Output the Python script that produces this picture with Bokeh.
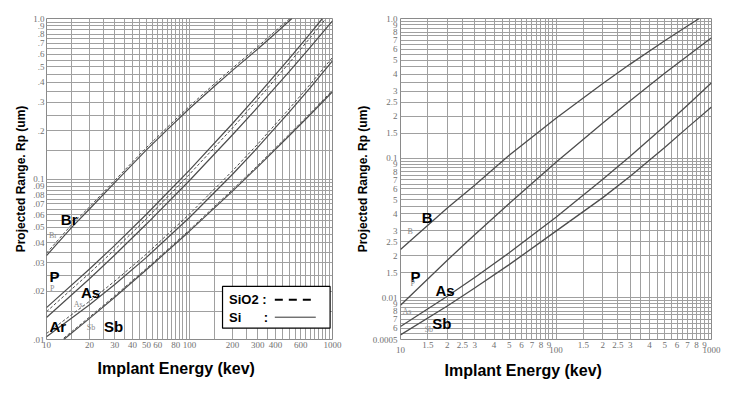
import numpy as np
from bokeh.plotting import figure
from bokeh.layouts import row
from bokeh.models import (Range1d, FixedTicker, Label, Arrow, BoxAnnotation, Title, LogAxis)
from bokeh.embed import file_html
from bokeh.resources import INLINE

# ---------------- Left panel data: implant energy (keV) vs projected range (um)
br_si_e = [10, 15, 20, 30, 50, 70, 100, 150, 200, 300, 400, 520]
br_si_rp = [0.0333, 0.050, 0.065, 0.095, 0.152, 0.203, 0.275, 0.38, 0.475, 0.645, 0.81, 1.0]
br_ox_e = [10, 15, 20, 30, 50, 70, 100, 150, 200, 300, 400, 505]
br_ox_rp = [0.0345, 0.052, 0.067, 0.098, 0.157, 0.210, 0.284, 0.393, 0.491, 0.667, 0.838, 1.0]
p_si_e = [10, 20, 30, 50, 100, 200, 300, 500, 700, 850]
p_si_rp = [0.0158, 0.0275, 0.0386, 0.0603, 0.1137, 0.2217, 0.3327, 0.565, 0.809, 1.0]
p_ox_e = [10, 20, 30, 50, 100, 200, 300, 500, 700, 900]
p_ox_rp = [0.0149, 0.0259, 0.0363, 0.0567, 0.107, 0.208, 0.313, 0.531, 0.761, 1.0]
ar_si_e = [10, 20, 30, 50, 100, 200, 300, 500, 700, 1000]
ar_si_rp = [0.0137, 0.0239, 0.0336, 0.0524, 0.0979, 0.1886, 0.2803, 0.4687, 0.6632, 0.965]
as_si_e = [10, 20, 30, 50, 100, 200, 300, 500, 700, 1000]
as_si_rp = [0.0104, 0.01645, 0.0220, 0.0325, 0.0576, 0.1071, 0.1573, 0.2619, 0.3714, 0.545]
as_ox_rp = [0.0109, 0.0173, 0.0231, 0.0341, 0.0605, 0.1125, 0.165, 0.275, 0.39, 0.572]
sb_si_e = [13.2, 20, 30, 50, 100, 200, 300, 500, 700, 1000]
sb_si_rp = [0.01, 0.01354, 0.01835, 0.02719, 0.0473, 0.0841, 0.119, 0.1866, 0.2522, 0.3497]
sb_ox_rp = [0.0102, 0.0138, 0.0187, 0.0277, 0.0482, 0.0858, 0.1214, 0.1903, 0.2572, 0.3567]

# ---------------- Right panel data
b_r_e = [10, 20, 30, 50, 100, 200, 300, 500, 700, 834]
b_r_rp = [0.0221, 0.0438, 0.0638, 0.1046, 0.1926, 0.3423, 0.4712, 0.6931, 0.8841, 1.0]
p_r_e = [10, 20, 30, 50, 100, 200, 300, 500, 700, 1000]
p_r_rp = [0.0088, 0.0185, 0.0282, 0.0472, 0.0931, 0.1785, 0.2577, 0.4044, 0.5394, 0.727]
as_r_e = [10, 20, 30, 50, 100, 200, 300, 500, 700, 1000]
as_r_rp = [0.0062, 0.0102, 0.0139, 0.0209, 0.0376, 0.0703, 0.103, 0.1698, 0.2386, 0.346]
sb_r_e = [10, 20, 30, 50, 100, 200, 300, 500, 700, 1000]
sb_r_rp = [0.0054, 0.0087, 0.0117, 0.0172, 0.0299, 0.052, 0.074, 0.119, 0.1651, 0.232]

# ---------------- Tick labels
left_x_ticks = [10, 20, 30, 40, 50, 60, 80, 100, 200, 300, 400, 600, 1000]
left_x_labels = ["10", "20", "30", "40", "50", "60", "80", "100", "200", "300", "400", "600", "1000"]
left_y_ticks = [0.01, 0.02, 0.03, 0.04, 0.05, 0.06, 0.07, 0.08, 0.09, 0.1,
                0.2, 0.3, 0.4, 0.5, 0.6, 0.7, 0.8, 0.9, 1.0]
left_y_labels = [".01", ".02", ".03", ".04", ".05", ".06", ".07", ".08", ".09", "0.1",
                 ".2", ".3", ".4", ".5", ".6", ".7", ".8", ".9", "1.0"]
right_x_ticks = [15, 20, 25, 30, 40, 50, 60, 70, 80, 90,
                 150, 200, 250, 300, 400, 500, 600, 700, 800, 900]
right_x_labels = ["1.5", "2", "2.5", "3", "4", "5", "6", "7", "8", "9",
                  "1.5", "2", "2.5", "3", "4", "5", "6", "7", "8", "9"]
right_x_decades = [10, 100, 1000]
right_x_decade_labels = ["10", "100", "1000"]
right_y_ticks = [0.005, 0.006, 0.007, 0.008, 0.009, 0.01, 0.015, 0.02, 0.025, 0.03,
                 0.04, 0.05, 0.06, 0.07, 0.08, 0.09, 0.1, 0.15, 0.2, 0.25, 0.3,
                 0.4, 0.5, 0.6, 0.7, 0.8, 0.9, 1.0]
right_y_labels = ["0.0005", "6", "7", "8", "9", "0.01", "1.5", "2", "2.5", "3",
                  "4", "5", "6", "7", "8", "9", "0.1", "1.5", "2", "2.5", "3",
                  "4", "5", "6", "7", "8", "9", "1.0"]

x_title = "Implant Energy (kev)"
y_title = "Projected Range. Rp (um)"

CURVE = "#4d4d4d"
GRID = "#a0a0a0"
TICKC = "#707070"

grid_x = list(range(10, 100, 5)) + list(range(100, 1001, 50))
grid_y_left = list(np.round(np.arange(0.01, 0.1, 0.005), 4)) + list(np.round(np.arange(0.1, 1.0001, 0.05), 3))
grid_y_right = list(np.round(np.arange(0.005, 0.01, 0.0005), 5)) + grid_y_left


def style_axis(ax):
    ax.axis_line_color = None
    ax.major_tick_line_color = None
    ax.minor_tick_line_color = None
    ax.major_tick_out = 0
    ax.major_tick_in = 0
    ax.major_label_text_font = "Liberation Serif"
    ax.major_label_text_font_size = "9px"
    ax.major_label_text_color = TICKC


def style(p, xt, xl, yt, yl, gy, xstand, ystand):
    p.outline_line_color = "#8a8a8a"
    p.outline_line_width = 1
    p.background_fill_color = "white"
    p.border_fill_color = "white"
    p.xaxis.ticker = FixedTicker(ticks=xt, minor_ticks=[])
    p.yaxis.ticker = FixedTicker(ticks=yt, minor_ticks=[])
    p.xaxis.major_label_overrides = {t: s for t, s in zip(xt, xl)}
    p.yaxis.major_label_overrides = {t: s for t, s in zip(yt, yl)}
    p.xaxis.major_label_standoff = xstand
    p.yaxis.major_label_standoff = ystand
    for ax in p.axis:
        style_axis(ax)
    p.xgrid.ticker = FixedTicker(ticks=grid_x, minor_ticks=[])
    p.ygrid.ticker = FixedTicker(ticks=gy, minor_ticks=[])
    p.grid.grid_line_color = GRID
    p.grid.grid_line_width = 1


def ion_label(p, x, y, text, big=True):
    if big:
        p.add_layout(Label(x=x, y=y, text=text, text_font="Liberation Sans", text_font_style="bold",
                           text_font_size="15px", text_align="left", text_baseline="middle",
                           text_color="black"))
    else:
        p.add_layout(Label(x=x, y=y, text=text, text_font="Liberation Serif",
                           text_font_size="8px", text_align="left", text_baseline="middle",
                           text_color="#8a8a8a"))


def x_title_obj(offset, standoff):
    return Title(text=x_title, align="left", offset=offset, standoff=standoff,
                 text_font="Liberation Sans", text_font_style="bold",
                 text_font_size="16px", text_color="black")


def y_title_obj(standoff):
    return Title(text=y_title, align="center", standoff=standoff,
                 text_font="Liberation Sans", text_font_style="bold",
                 text_font_size="12px", text_color="black")


FIG_H = 393
TOP = 18
BOTTOM = 54

# ================= Left figure
pl = figure(width=353, height=FIG_H, x_axis_type="log", y_axis_type="log",
            x_range=Range1d(10, 1000), y_range=Range1d(0.01, 1.0),
            toolbar_location=None, output_backend="svg",
            min_border_left=46, min_border_right=21, min_border_top=TOP, min_border_bottom=BOTTOM)
style(pl, left_x_ticks, left_x_labels, left_y_ticks, left_y_labels, grid_y_left, 2, 2)

SOL = dict(line_color=CURVE, line_width=1.2)
DSH = dict(line_color=CURVE, line_width=1.0, line_dash="3 2")
pl.line(br_si_e, br_si_rp, **SOL)
pl.line(br_ox_e, br_ox_rp, **DSH)
pl.line(p_si_e, p_si_rp, **SOL)
pl.line(p_ox_e, p_ox_rp, **DSH)
pl.line(ar_si_e, ar_si_rp, **SOL)
pl.line(as_si_e, as_si_rp, **SOL)
pl.line(as_si_e, as_ox_rp, **DSH)
pl.line(sb_si_e, sb_si_rp, **SOL)
pl.line(sb_si_e, sb_ox_rp, **DSH)

ion_label(pl, 12.6, 0.0560, "Br")
ion_label(pl, 10.4, 0.0445, "Br", big=False)
ion_label(pl, 10.5, 0.0246, "P")
ion_label(pl, 10.6, 0.0208, "P", big=False)
ion_label(pl, 17.4, 0.0196, "As")
ion_label(pl, 15.5, 0.0165, "As", big=False)
ion_label(pl, 10.5, 0.0121, "Ar")
ion_label(pl, 25.2, 0.0121, "Sb")
ion_label(pl, 19.1, 0.0119, "Sb", big=False)

# legend box
pl.add_layout(BoxAnnotation(left=170.2, right=962, bottom=0.01176, top=0.0214,
                            fill_color="white", fill_alpha=1.0,
                            line_color="black", line_width=1.2, line_alpha=1.0))
for yy, s, xx in [(0.01768, "SiO2 :", 189), (0.01377, "Si", 189), (0.01377, ":", 331)]:
    pl.add_layout(Label(x=xx, y=yy, text=s, text_font="Liberation Sans",
                        text_font_style="bold", text_font_size="13px", text_align="left",
                        text_baseline="middle", text_color="black"))
pl.add_layout(Arrow(end=None, x_start=395, y_start=0.01768, x_end=728, y_end=0.01768,
                    line_color="black", line_width=2, line_dash="8 6"))
pl.add_layout(Arrow(end=None, x_start=395, y_start=0.01377, x_end=764, y_end=0.01377,
                    line_color="#333333", line_width=1))

pl.add_layout(x_title_obj(51, 15), "below")
pl.add_layout(y_title_obj(6), "left")

# ================= Right figure
pr = figure(width=374, height=FIG_H, x_axis_type="log", y_axis_type="log",
            x_range=Range1d(10, 1000), y_range=Range1d(0.005, 1.0),
            toolbar_location=None, output_backend="svg",
            min_border_left=44, min_border_right=16, min_border_top=TOP, min_border_bottom=BOTTOM)
style(pr, right_x_ticks, right_x_labels, right_y_ticks, right_y_labels, grid_y_right, 2, 3)

dec_axis = LogAxis(ticker=FixedTicker(ticks=right_x_decades, minor_ticks=[]),
                   major_label_overrides={t: s for t, s in zip(right_x_decades, right_x_decade_labels)},
                   major_label_standoff=-4)
style_axis(dec_axis)
pr.add_layout(dec_axis, "below")

RSOL = dict(line_color=CURVE, line_width=1.3)
pr.line(b_r_e, b_r_rp, **RSOL)
pr.line(p_r_e, p_r_rp, **RSOL)
pr.line(as_r_e, as_r_rp, **RSOL)
pr.line(sb_r_e, sb_r_rp, **RSOL)

ion_label(pr, 13.7, 0.0376, "B")
ion_label(pr, 11.1, 0.0298, "B", big=False)
ion_label(pr, 11.6, 0.0142, "P")
ion_label(pr, 11.6, 0.0126, "P", big=False)
ion_label(pr, 16.8, 0.0112, "As")
ion_label(pr, 10.3, 0.0079, "As", big=False)
ion_label(pr, 16.0, 0.0065, "Sb")
ion_label(pr, 14.3, 0.0059, "Sb", big=False)

pr.add_layout(x_title_obj(44, 9), "below")
pr.add_layout(y_title_obj(0), "left")

layout = row(pl, pr)
open("out.html", "w").write(file_html(layout, INLINE))
